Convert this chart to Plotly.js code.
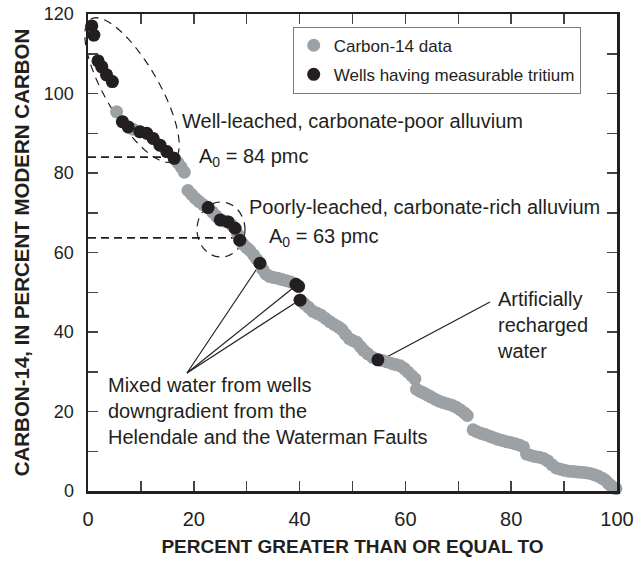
<!DOCTYPE html>
<html>
<head>
<meta charset="utf-8">
<script src="https://cdn.plot.ly/plotly-3.0.1.min.js"></script>
<style>html,body{margin:0;padding:0;background:#fff;}#chart{width:634px;height:565px;}</style>
</head>
<body>
<div id="chart"></div>
<script>
// Carbon-14 data: percent greater than or equal to (x) and carbon-14 in pmc (y)
const c14Percent = [0.7,1.1,1.9,2.6,3.5,4.6,5.4,6.5,7.6,8.5,9.8,11.1,12.3,13.6,14.9,16.3,17.0,17.6,18.2,18.9,19.6,20.3,21.0,21.8,22.7,23.5,24.3,25.0,25.8,26.5,27.2,27.8,28.3,28.7,29.3,30.0,30.6,31.3,31.9,32.5,33.0,33.6,34.3,35.1,35.9,36.7,37.5,38.3,39.3,39.8,40.1,40.9,41.7,42.5,43.3,44.1,44.9,45.7,46.5,47.3,48.0,48.7,49.4,50.1,50.8,51.5,52.1,52.9,53.8,54.8,55.6,56.5,57.4,58.2,59.0,59.8,60.5,61.2,61.8,62.1,62.7,63.4,64.1,64.8,65.6,66.4,67.2,68.0,68.8,69.6,70.4,71.1,71.7,72.8,73.5,74.3,75.1,75.9,76.7,77.5,78.3,79.1,79.9,80.7,81.5,82.3,82.9,83.6,84.4,85.3,86.1,86.9,87.7,88.5,89.3,90.1,90.9,91.7,92.5,93.3,94.1,94.9,95.7,96.5,97.2,97.8,98.3,98.8,99.3,99.8];
const c14Pmc = [117.0,114.7,108.2,106.7,104.7,103.0,95.4,92.9,91.6,91.0,90.4,90.0,88.7,87.0,85.4,83.7,82.6,81.5,80.2,75.6,74.6,73.6,72.8,72.0,71.3,70.2,69.1,68.2,67.9,67.7,66.9,66.1,64.6,63.1,62.1,61.2,60.5,59.4,58.3,57.3,55.8,54.6,54.0,53.7,53.5,53.2,52.9,52.6,52.0,51.5,48.0,47.1,46.2,45.2,44.7,44.2,43.4,42.6,41.9,41.3,40.6,39.4,38.3,37.8,37.4,36.3,35.4,34.5,33.6,33.0,32.8,32.5,32.1,31.8,31.5,30.8,29.9,29.0,28.2,25.6,25.1,24.7,24.2,23.7,23.1,22.6,22.2,21.9,21.6,21.1,20.4,19.7,19.0,15.4,14.9,14.5,14.2,13.8,13.4,13.0,12.7,12.4,12.2,11.9,11.6,11.1,9.3,9.0,8.7,8.5,8.2,7.6,6.6,5.8,5.5,5.2,5.0,4.9,4.8,4.7,4.6,4.4,4.1,3.7,3.2,2.7,2.0,1.4,0.9,0.6];

// Wells having measurable tritium
const tritiumPercent = [0.7,1.1,1.9,2.6,3.5,4.6,6.5,7.6,9.8,11.1,12.3,13.6,14.9,16.3,22.7,25.0,26.5,27.8,28.7,32.5,39.3,39.8,40.1,54.8];
const tritiumPmc = [117.0,114.7,108.2,106.7,104.7,103.0,92.9,91.6,90.4,90.0,88.7,87.0,85.4,83.7,71.3,68.2,67.7,66.1,63.1,57.3,52.0,51.5,48.0,33.0];

const xTickVals = [0,20,40,60,80,100];
const yTickVals = [0,20,40,60,80,100,120];
const seriesNames = ['Carbon-14 data','Wells having measurable tritium'];

// plot frame in pixels (for annotation placement)
const L = 88, R = 617, T = 14, B = 491;
const px = x => (x - L) / (R - L);
const py = y => (B - y) / (B - T);

function ellipsePath(cx, cy, a, b, angDeg) {
  const th = angDeg * Math.PI / 180;
  const pts = [];
  for (let i = 0; i <= 72; i++) {
    const t = i / 72 * 2 * Math.PI;
    const ex = a * Math.cos(t), ey = b * Math.sin(t);
    const X = cx + ex * Math.cos(th) - ey * Math.sin(th);
    const Y = cy + ex * Math.sin(th) + ey * Math.cos(th);
    pts.push(px(X).toFixed(5) + ',' + py(Y).toFixed(5));
  }
  return 'M' + pts.join('L') + 'Z';
}

const ink = '#231f20';
const gray = '#9ca1a6';
const textFont = 'Liberation Sans, Arial, sans-serif';

const traces = [
  {
    x: c14Percent, y: c14Pmc, type: 'scatter', mode: 'markers', name: seriesNames[0],
    marker: {color: gray, size: 13}, cliponaxis: false, legendgroup: 'a'
  },
  {
    x: tritiumPercent, y: tritiumPmc, type: 'scatter', mode: 'markers', name: seriesNames[1],
    marker: {color: ink, size: 13}, cliponaxis: false, legendgroup: 'b'
  }
];

const dashLine = {color: ink, width: 1.8, dash: '8px,5px'};
const thin = {color: ink, width: 1.2};

const shapes = [
  {type: 'path', xref: 'paper', yref: 'paper', layer: 'below', path: ellipsePath(132, 90, 82, 27, 60), line: {color: ink, width: 1.2, dash: '8px,6px'}},
  {type: 'circle', xref: 'paper', yref: 'paper', layer: 'below', x0: px(197), x1: px(245), y0: py(257), y1: py(202), line: {color: ink, width: 1.2, dash: '8px,6px'}},
  {type: 'line', xref: 'paper', yref: 'y', layer: 'below', x0: 0, x1: px(163), y0: 84, y1: 84, line: dashLine},
  {type: 'line', xref: 'paper', yref: 'y', layer: 'below', x0: 0, x1: px(238), y0: 63.7, y1: 63.7, line: dashLine},
  {type: 'line', xref: 'paper', yref: 'paper', layer: 'below', x0: px(187), y0: py(373), x1: px(258), y1: py(267), line: thin},
  {type: 'line', xref: 'paper', yref: 'paper', layer: 'below', x0: px(187), y0: py(373), x1: px(293), y1: py(288), line: thin},
  {type: 'line', xref: 'paper', yref: 'paper', layer: 'below', x0: px(187), y0: py(373), x1: px(295), y1: py(303), line: thin},
  {type: 'line', xref: 'paper', yref: 'paper', layer: 'below', x0: px(490), y0: py(302), x1: px(383), y1: py(359), line: thin}
];

const ann = (text, x, y) => ({
  text: text, xref: 'paper', yref: 'paper', x: px(x), y: py(y), xanchor: 'left', yanchor: 'middle',
  showarrow: false, align: 'left', font: {family: textFont, size: 20, color: ink}
});

const annotations = [
  ann('Well-leached, carbonate-poor alluvium', 180, 121),
  ann('A<sub>0</sub> = 84 pmc', 197, 157),
  ann('Poorly-leached, carbonate-rich alluvium', 247, 207),
  ann('A<sub>0</sub> = 63 pmc', 267, 238),
  ann('Mixed water from wells<br>downgradient from the<br>Helendale and the Waterman Faults', 106, 411),
  ann('Artificially<br>recharged<br>water', 495, 325)
];

const layout = {
  width: 634, height: 565,
  margin: {l: L, r: 634 - R, t: T, b: 565 - B, pad: 0},
  paper_bgcolor: '#fff', plot_bgcolor: '#fff',
  font: {family: textFont, color: ink},
  showlegend: true,
  legend: {
    x: px(292.7), y: py(26.7), xanchor: 'left', yanchor: 'top',
    bordercolor: '#7a7a7a', borderwidth: 1, bgcolor: '#fff',
    font: {family: textFont, size: 17, color: ink},
    traceorder: 'grouped', tracegroupgap: 4
  },
  xaxis: {
    range: [0, 100], tickvals: xTickVals, ticks: 'inside', ticklen: 10, tickwidth: 1.5, tickcolor: '#444',
    minor: {dtick: 10, tick0: 0, ticks: 'inside', ticklen: 10, tickwidth: 1.5, tickcolor: '#444'},
    showline: true, linecolor: ink, linewidth: 2.5, mirror: 'allticks', showgrid: false, zeroline: false,
    tickfont: {family: textFont, size: 20, color: ink}, ticklabelstandoff: 8, ticklabeloverflow: 'allow',
    title: {text: '<b>PERCENT GREATER THAN OR EQUAL TO</b>', font: {family: textFont, size: 19, color: ink}, standoff: 11}
  },
  yaxis: {
    range: [0, 120], tickvals: yTickVals, ticks: 'inside', ticklen: 10, tickwidth: 1.5, tickcolor: '#444',
    minor: {dtick: 10, tick0: 0, ticks: 'inside', ticklen: 10, tickwidth: 1.5, tickcolor: '#444'},
    showline: true, linecolor: ink, linewidth: 2.5, mirror: 'allticks', showgrid: false, zeroline: false,
    tickfont: {family: textFont, size: 18, color: ink}, ticklabelstandoff: 8,
    title: {text: '<b>CARBON-14, IN PERCENT MODERN CARBON</b>', font: {family: textFont, size: 20.5, color: ink}, standoff: 9}
  },
  shapes: shapes,
  annotations: annotations
};

Plotly.newPlot('chart', traces, layout, {displayModeBar: false, staticPlot: true});
</script>
</body>
</html>
